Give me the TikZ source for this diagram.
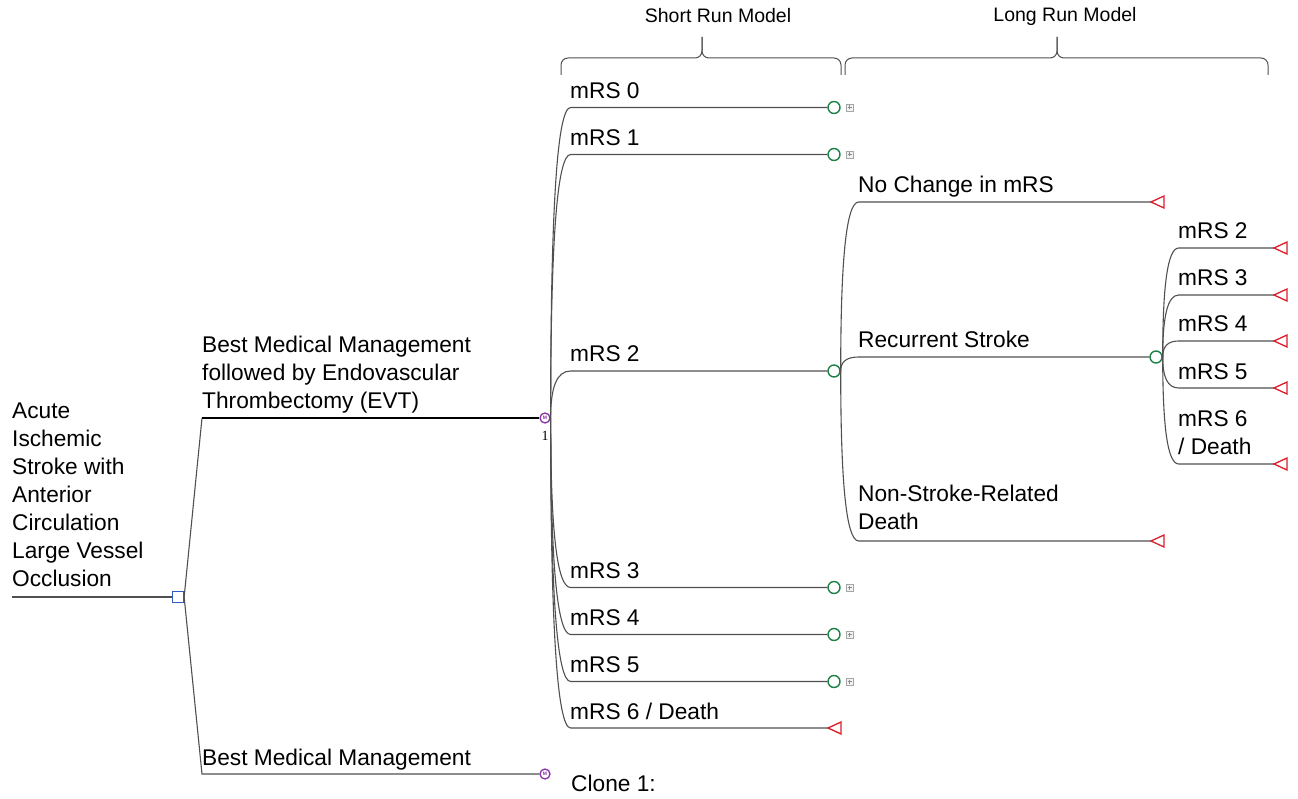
\documentclass[tikz,border=0pt]{standalone}
\usepackage{fontspec}
\setmainfont{Liberation Sans}
\newfontfamily\serifnum{Liberation Serif}
\usetikzlibrary{calc}
\definecolor{lineg}{RGB}{80,80,80}
\definecolor{chgreen}{RGB}{30,130,70}
\definecolor{mkpurple}{RGB}{140,50,170}
\definecolor{decblue}{RGB}{50,90,200}
\definecolor{termred}{RGB}{220,30,40}
\tikzset{
  br/.style={draw=lineg, line width=1.1pt},
  curvebr/.style={br, to path={.. controls ($(\tikztostart)!0.65!(\tikztostart |- \tikztotarget)$)
      and ($(\tikztostart |- \tikztotarget)+(0.3*#1,0)$) .. ($(\tikztostart |- \tikztotarget)+(#1,0)$) -- (\tikztotarget)}},
  evt/.style={draw=black, line width=2.4pt},
  lbl/.style={inner sep=0pt, font=\fontsize{22.7}{28}\selectfont, text=black},
  hdr/.style={inner sep=0pt, font=\fontsize{19.5}{23}\selectfont, text=black},
  chance/.style={circle, draw=chgreen, line width=1.4pt, fill=white, minimum size=12pt, inner sep=0pt},
  markov/.style={circle, draw=mkpurple, line width=1.3pt, fill=white, minimum size=10pt, inner sep=0pt, font=\fontsize{5}{5}\selectfont\bfseries, text=mkpurple},
  decision/.style={rectangle, draw=decblue, line width=1.3pt, fill=white, minimum size=11pt, inner sep=0pt},
  plusbox/.style={rectangle, draw=gray!70, fill=gray!10, minimum size=7pt, inner sep=0pt, line width=0.6pt,
    path picture={\draw[gray!90, line width=0.5pt]
      ([xshift=-2pt]path picture bounding box.center) -- ([xshift=2pt]path picture bounding box.center)
      ([yshift=-2pt]path picture bounding box.center) -- ([yshift=2pt]path picture bounding box.center);}},
  bracestyle/.style={draw=lineg, line width=1pt, rounded corners=7pt},
  term/.pic={\draw[termred, line width=1.3pt, line join=miter, fill=white] (0,0) -- (13,-6) -- (13,6) -- cycle;}
}
\begin{document}
\begin{tikzpicture}[x=1pt,y=-1pt]
\useasboundingbox (0,0) rectangle (1298,799);

% braces and headers
\node[hdr] (srm) at (718,16) {Short Run Model};
\node[hdr] (lrm) at (1065,16) {Long Run Model};
\draw[bracestyle] (561,75) -- (561,58) -- (702,58) -- (702,37);
\draw[bracestyle] (841,75) -- (841,58) -- (702,58) -- (702,37);
\draw[bracestyle] (845,75) -- (845,58) -- (1057,58) -- (1057,37);
\draw[bracestyle] (1268,75) -- (1268,58) -- (1057,58) -- (1057,37);

% root
\coordinate (root) at (12,597);
\node[decision] (d) at (178,597) {};
\draw[br] (root) -- (d);
\node[lbl, anchor=north west, align=left] (rt) at (12,402.7)
  {Acute\\Ischemic\\Stroke with\\Anterior\\Circulation\\Large Vessel\\Occlusion};

% decision branches
\node[markov] (m1) at (545,418) {M};
\node[markov] (m2) at (545,774) {M};
\coordinate (evtc) at (202,418);
\coordinate (bmc) at (202,774);
\draw[br] (d.east) -- (evtc);
\draw[evt] (evtc) -- (m1);
\draw[br] (d.east) -- (bmc) -- (m2);
\node[lbl, anchor=north west, align=left] (evtl) at (202,335.5)
  {Best Medical Management\\followed by Endovascular\\Thrombectomy (EVT)};
\node[lbl, anchor=base west] (bmml) at (202,765) {Best Medical Management};
\node[inner sep=0pt, font=\serifnum\fontsize{14}{14}\selectfont] (one) at (545,436) {1};
\node[lbl, anchor=base west] (clone) at (571,791) {Clone 1:};

% short run model
\node[chance] (s0) at (834,107.5) {};
\node[chance] (s1) at (834,154.5) {};
\node[chance] (s2) at (834,371) {};
\node[chance] (s3) at (834,587.5) {};
\node[chance] (s4) at (834,634.5) {};
\node[chance] (s5) at (834,681.5) {};
\coordinate (t6) at (828,728);
\node[plusbox] (p0) at (849.5,107.5) {};
\node[plusbox] (p1) at (849.5,154.5) {};
\node[plusbox] (p3) at (849.5,587.5) {};
\node[plusbox] (p4) at (849.5,634.5) {};
\node[plusbox] (p5) at (849.5,681.5) {};
\foreach \s in {s0,s1,s2,s3,s4,s5,t6}{
  \draw[curvebr=20] (m1.east) to (\s);
}
\pic at (t6) {term};
\node[lbl, anchor=base west] (l0) at (570,98.5) {mRS 0};
\node[lbl, anchor=base west] (l1) at (570,145.5) {mRS 1};
\node[lbl, anchor=base west] (l2) at (570,362) {mRS 2};
\node[lbl, anchor=base west] (l3) at (570,578.5) {mRS 3};
\node[lbl, anchor=base west] (l4) at (570,625.5) {mRS 4};
\node[lbl, anchor=base west] (l5) at (570,672.5) {mRS 5};
\node[lbl, anchor=base west] (l6) at (570,719) {mRS 6 / Death};

% long run model
\coordinate (tn) at (1151,202);
\node[chance] (r) at (1156,357) {};
\coordinate (tns) at (1151,541);
\foreach \s in {tn,r,tns}{
  \draw[curvebr=18] (s2.east) to (\s);
}
\pic at (tn) {term};
\pic at (tns) {term};
\node[lbl, anchor=base west] (ln) at (858,193) {No Change in mRS};
\node[lbl, anchor=base west] (lr) at (858,348) {Recurrent Stroke};
\node[lbl, anchor=north west, align=left] (lns) at (858,484.5) {Non-Stroke-Related\\Death};

% recurrent stroke outcomes
\coordinate (u2) at (1274,248);
\coordinate (u3) at (1274,295);
\coordinate (u4) at (1274,341);
\coordinate (u5) at (1274,388);
\coordinate (u6) at (1274,464);
\foreach \u in {u2,u3,u4,u5,u6}{
  \draw[curvebr=16] (r.east) to (\u);
  \pic at (\u) {term};
}
\node[lbl, anchor=base west] (k2) at (1178,239) {mRS 2};
\node[lbl, anchor=base west] (k3) at (1178,286) {mRS 3};
\node[lbl, anchor=base west] (k4) at (1178,332) {mRS 4};
\node[lbl, anchor=base west] (k5) at (1178,379) {mRS 5};
\node[lbl, anchor=north west, align=left] (k6) at (1178,410.5) {mRS 6\\/ Death};
\end{tikzpicture}
\end{document}
